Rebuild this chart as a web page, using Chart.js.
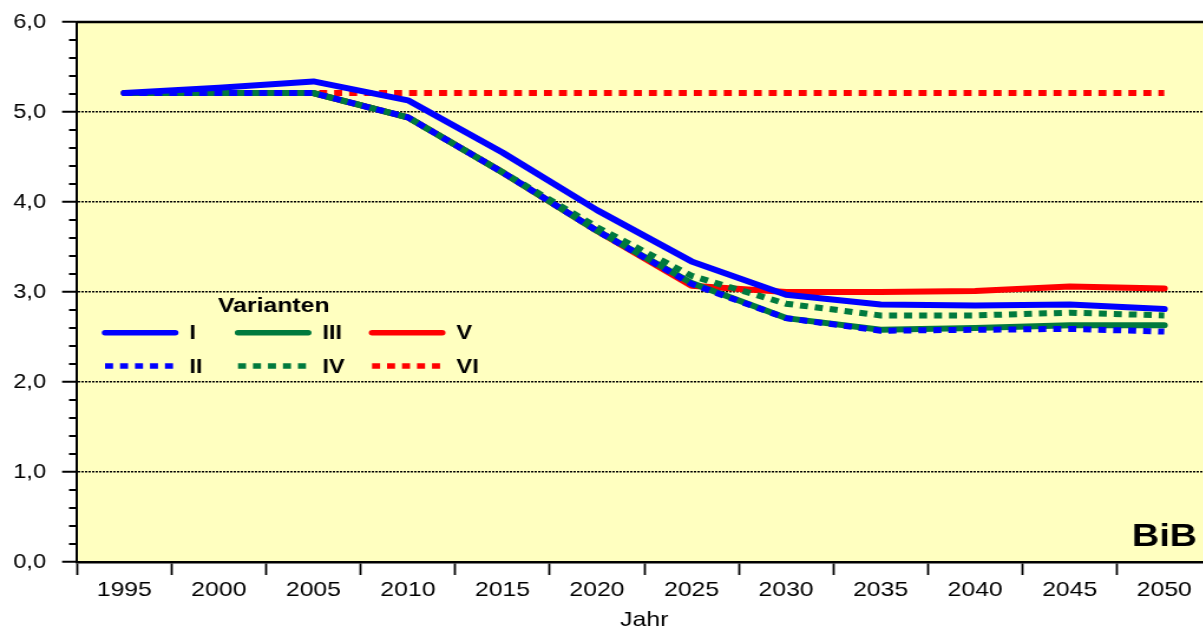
<!DOCTYPE html>
<html lang="de">
<head>
<meta charset="utf-8">
<title>Varianten 1995-2050</title>
<script src="https://cdn.jsdelivr.net/npm/chart.js@4.4.1/dist/chart.umd.min.js"></script>
<style>
  html, body { margin: 0; padding: 0; background: #fff; overflow: hidden; }
  #wrap { width: 1203px; height: 629px; overflow: hidden; }
  /* the drawing is widened a little, text and lines alike */
  #chart { display: block; transform: scaleX(1.18); transform-origin: 0 0; }
</style>
</head>
<body>
<div id="wrap"><canvas id="chart" width="1030" height="629"></canvas></div>
<script>
// --- Data ---
const years = ['1995', '2000', '2005', '2010', '2015', '2020', '2025', '2030', '2035', '2040', '2045', '2050'];
const varI   = [5.21, 5.27, 5.34, 5.13, 4.55, 3.91, 3.34, 2.97, 2.86, 2.85, 2.86, 2.81];
const varII  = [5.21, 5.21, 5.21, 4.94, 4.33, 3.68, 3.09, 2.71, 2.57, 2.58, 2.59, 2.56];
const varIII = [5.21, 5.21, 5.21, 4.94, 4.33, 3.68, 3.10, 2.71, 2.58, 2.60, 2.63, 2.63];
const varIV  = [5.21, 5.21, 5.21, 4.94, 4.33, 3.72, 3.18, 2.87, 2.74, 2.74, 2.77, 2.74];
const varV   = [5.21, 5.21, 5.21, 4.94, 4.33, 3.68, 3.07, 3.00, 3.00, 3.01, 3.06, 3.04];
const varVI  = [5.21, 5.21, 5.21, 5.21, 5.21, 5.21, 5.21, 5.21, 5.21, 5.21, 5.21, 5.21];
const yMin = 0, yMax = 6, yStep = 1;

const BLUE = '#0000FF';
const GREEN = '#007A3D';
const RED = '#FF0000';
const FONT = '"Liberation Sans", Arial, sans-serif';
const DOTS = [6.8, 5.9];

// --- Helpers ---
function solid(label, data, color, order) {
  return {
    label, data, order,
    borderColor: color, backgroundColor: color,
    borderWidth: 6, borderCapStyle: 'round', borderJoinStyle: 'round',
    pointRadius: 0, tension: 0
  };
}
function dotted(label, data, color, order, offset) {
  return {
    label, data, order,
    borderColor: color, backgroundColor: color,
    borderWidth: 6, borderCapStyle: 'butt', borderJoinStyle: 'miter',
    borderDash: DOTS, borderDashOffset: offset || 0,
    pointRadius: 0, tension: 0
  };
}

// --- Plot background, top frame, minor ticks ---
const plotFrame = {
  id: 'plotFrame',
  beforeDraw(chart) {
    const { ctx, chartArea: a } = chart;
    ctx.save();
    ctx.fillStyle = '#FFFFC0';
    ctx.fillRect(a.left, a.top, a.right - a.left, a.bottom - a.top);
    ctx.restore();
  },
  afterDraw(chart) {
    const { ctx, chartArea: a, scales: { y } } = chart;
    ctx.save();
    ctx.strokeStyle = '#000';
    ctx.lineWidth = 2.5;
    ctx.beginPath();
    ctx.moveTo(a.left - 1, a.top);
    ctx.lineTo(a.right, a.top);
    ctx.stroke();
    // minor ticks every 0,2
    ctx.lineWidth = 2;
    for (let i = 1; i < yMax * 5; i++) {
      if (i % 5 === 0) continue;
      const py = y.getPixelForValue(i / 5);
      ctx.beginPath();
      ctx.moveTo(a.left - 6.8, py);
      ctx.lineTo(a.left, py);
      ctx.stroke();
    }
    ctx.restore();
  }
};

// --- Legend box inside the plot ---
const legendCols = [['I', 'II'], ['III', 'IV'], ['V', 'VI']];
const legendBox = {
  id: 'legendBox',
  afterDatasetsDraw(chart) {
    const ctx = chart.ctx;
    const sets = chart.data.datasets;
    const colX = [89, 201.7, 315.3];
    const rowY = [332.7, 366];
    ctx.save();
    ctx.fillStyle = '#000';
    ctx.textBaseline = 'middle';
    ctx.textAlign = 'left';
    ctx.font = 'bold 21px ' + FONT;
    ctx.fillText('Varianten', 184.7, 306);
    ctx.font = 'bold 20px ' + FONT;
    legendCols.forEach((col, c) => {
      col.forEach((name, r) => {
        const ds = sets.find(d => d.label === name);
        const x0 = colX[c], y0 = rowY[r];
        ctx.strokeStyle = ds.borderColor;
        ctx.lineWidth = 5.5;
        ctx.lineCap = ds.borderCapStyle;
        ctx.setLineDash(ds.borderDash || []);
        ctx.beginPath();
        ctx.moveTo(x0, y0);
        ctx.lineTo(x0 + 59.5, y0);
        ctx.stroke();
        ctx.setLineDash([]);
        ctx.fillText(name, x0 + 71.5, y0 + 1);
      });
    });
    // logo
    ctx.font = 'bold 32px ' + FONT;
    ctx.textAlign = 'right';
    ctx.textBaseline = 'alphabetic';
    ctx.fillText('BiB', 1014.4, 546);
    ctx.restore();
  }
};

// --- Chart ---
const chart = new Chart(document.getElementById('chart').getContext('2d'), {
  type: 'line',
  data: {
    labels: years,
    datasets: [
      solid('I', varI, BLUE, 1),
      dotted('II', varII, BLUE, 0),
      solid('III', varIII, GREEN, 3),
      dotted('IV', varIV, GREEN, 2, 6.35),
      solid('V', varV, RED, 4),
      dotted('VI', varVI, RED, 5)
    ]
  },
  options: {
    responsive: false,
    animation: false,
    devicePixelRatio: 1,
    layout: { padding: { top: 22, right: 3.3, bottom: 0, left: 0 } },
    plugins: {
      legend: { display: false },
      tooltip: { enabled: false }
    },
    scales: {
      x: {
        type: 'category',
        offset: true,
        afterFit(s) {
          s.height = 67;
          s.paddingLeft = 0;
          s.paddingRight = 0;
        },
        grid: {
          offset: true,
          drawOnChartArea: false,
          drawTicks: true,
          tickLength: 13,
          tickWidth: 1.8,
          tickColor: '#000'
        },
        border: { display: true, color: '#000', width: 2.5 },
        ticks: {
          color: '#000',
          padding: 3,
          maxRotation: 0,
          font: { family: FONT, size: 21 }
        },
        title: {
          display: true,
          text: 'Jahr',
          color: '#000',
          padding: 0,
          font: { family: FONT, size: 21, lineHeight: 0.8 }
        }
      },
      y: {
        min: yMin,
        max: yMax,
        afterFit(s) {
          s.width = 65.3;
          s.paddingTop = 0;
          s.paddingBottom = 0;
        },
        grid: {
          color: c => (c.tick && c.tick.value > yMin && c.tick.value < yMax) ? '#000' : 'rgba(0,0,0,0)',
          lineWidth: 1.5,
          tickColor: '#000',
          tickLength: 12.7,
          tickWidth: 2
        },
        border: { display: true, color: '#000', width: 2, dash: [2, 1] },
        ticks: {
          stepSize: yStep,
          color: '#000',
          padding: 13.6,
          font: { family: FONT, size: 20 },
          callback: v => v.toFixed(1).replace('.', ',')
        }
      }
    }
  },
  plugins: [plotFrame, legendBox]
});
</script>
</body>
</html>
